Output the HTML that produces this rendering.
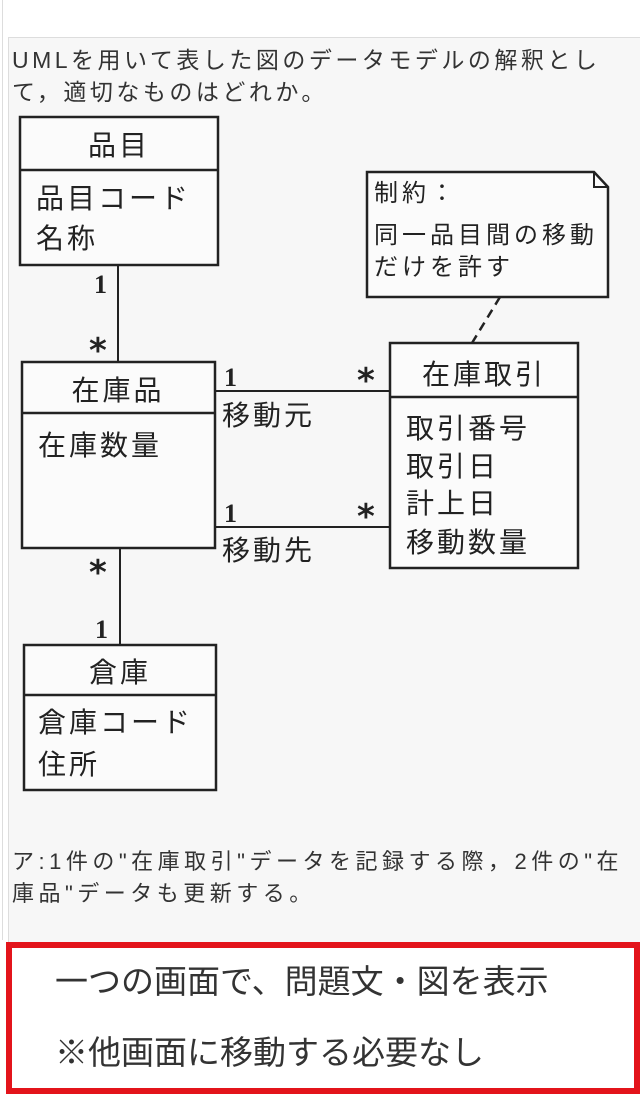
<!DOCTYPE html>
<html><head><meta charset="utf-8"><style>
body{margin:0;width:640px;height:1096px;background:#fff;position:relative;overflow:hidden;font-family:"Liberation Sans","Noto Sans CJK JP",sans-serif;color:#222}
.panel{position:absolute;left:8px;top:37px;width:640px;height:905px;background:#f7f7f7;border-left:1px solid #ddd;border-top:1px solid #ddd}
.t{position:absolute;white-space:nowrap}
.red{position:absolute;left:6px;top:942px;width:622px;height:140px;border:6px solid #e3141b;background:#fff}
</style></head><body>
<div style="position:absolute;left:2px;top:0;width:1px;height:940px;background:#ddd"></div>
<div class="panel"></div>
<div class="t" style="left:12px;top:44px;font-size:23px;letter-spacing:3.5px;line-height:32px;color:#333">UMLを用いて表した図のデータモデルの解釈とし<br>て，適切なものはどれか。</div>
<svg style="position:absolute;left:0;top:0" width="640" height="940" font-family="Liberation Serif,Noto Serif CJK SC,serif" fill="#222">
<g stroke="#222" stroke-width="2.5" fill="#fbfbfb">
<rect x="20" y="117" width="198" height="148"/><line x1="20" y1="170" x2="218" y2="170"/>
<rect x="22" y="362" width="193" height="186"/><line x1="22" y1="413" x2="215" y2="413"/>
<rect x="390" y="343" width="188" height="225"/><line x1="390" y1="397" x2="578" y2="397"/>
<rect x="24" y="645" width="192" height="145"/><line x1="24" y1="695" x2="216" y2="695"/>
<path d="M367 172 H594 L608 187 V297 H367 Z"/><path d="M594 172 V187 H608" fill="none" stroke-width="2"/>
<line x1="118" y1="265" x2="118" y2="362" stroke-width="2"/>
<line x1="120" y1="548" x2="120" y2="645" stroke-width="2"/>
<line x1="215" y1="391" x2="390" y2="391" stroke-width="2"/>
<line x1="215" y1="527" x2="390" y2="527" stroke-width="2"/>
<line x1="500" y1="297" x2="472" y2="343" stroke-width="2.5" stroke-dasharray="9,6"/>
</g>
<g font-size="28" letter-spacing="3" font-family="Liberation Sans,Noto Sans CJK JP,sans-serif">
<text x="119" y="155" text-anchor="middle">品目</text>
<text x="36" y="208">品目コード</text><text x="36" y="248">名称</text>
<text x="118" y="400" text-anchor="middle">在庫品</text>
<text x="38" y="455">在庫数量</text>
<text x="484" y="384" text-anchor="middle">在庫取引</text>
<text x="406" y="438">取引番号</text><text x="406" y="476">取引日</text>
<text x="406" y="513">計上日</text><text x="406" y="552">移動数量</text>
<text x="120" y="682" text-anchor="middle">倉庫</text>
<text x="38" y="732">倉庫コード</text><text x="38" y="774">住所</text>
<text x="222" y="425">移動元</text><text x="222" y="560">移動先</text>
</g>
<g font-size="24" letter-spacing="4" font-family="Liberation Sans,Noto Sans CJK JP,sans-serif">
<text x="374" y="201">制約：</text><text x="374" y="243">同一品目間の移動</text><text x="374" y="275">だけを許す</text>
</g>
<g font-size="26" font-weight="bold">
<text x="94" y="293">1</text><text x="224" y="386">1</text><text x="224" y="522">1</text><text x="95" y="638">1</text>
</g>
<g font-size="34" font-weight="bold" font-family="DejaVu Sans,sans-serif">
<text x="89" y="362">*</text>
<text x="357" y="392">*</text>
<text x="357" y="528">*</text>
<text x="89" y="584">*</text>
</g>
</svg>
<div class="t" style="left:12px;top:846px;font-size:22px;letter-spacing:4.5px;line-height:32px;color:#333">ア:1件の"在庫取引"データを記録する際，2件の"在<br>庫品"データも更新する。</div>
<div class="red"></div>
<div class="t" style="left:55px;top:955px;font-size:33px;color:#333">一つの画面で、問題文・図を表示</div>
<div class="t" style="left:55px;top:1026px;font-size:33px;color:#333">※他画面に移動する必要なし</div>
</body></html>
